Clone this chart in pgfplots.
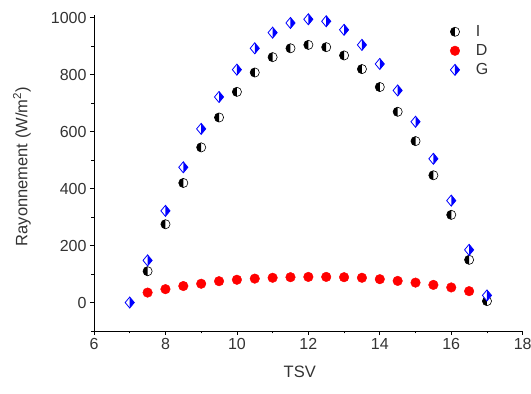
\documentclass[border=0pt]{standalone}
\usepackage{fontspec}
\setmainfont{Liberation Sans}
\usepackage{pgfplots}
\pgfplotsset{compat=1.18}

\pgfdeclareplotmark{halfcircL}{%
  \pgfpathcircle{\pgfpointorigin}{\pgfplotmarksize}%
  \pgfsetfillcolor{white}\pgfusepath{fill}%
  \pgfpathmoveto{\pgfqpoint{0pt}{\pgfplotmarksize}}%
  \pgfpatharc{90}{270}{\pgfplotmarksize}%
  \pgfpathclose
  \pgfsetfillcolor{black}\pgfusepath{fill}%
  \pgfpathcircle{\pgfpointorigin}{\pgfplotmarksize}%
  \pgfsetstrokecolor{black}\pgfusepath{stroke}%
}
\pgfdeclareplotmark{halfdiamR}{%
  \pgfpathmoveto{\pgfqpoint{0pt}{1.15\pgfplotmarksize}}%
  \pgfpathlineto{\pgfqpoint{0.95\pgfplotmarksize}{0pt}}%
  \pgfpathlineto{\pgfqpoint{0pt}{-1.15\pgfplotmarksize}}%
  \pgfpathlineto{\pgfqpoint{-0.95\pgfplotmarksize}{0pt}}%
  \pgfpathclose
  \pgfsetfillcolor{white}\pgfusepath{fill}%
  \pgfpathmoveto{\pgfqpoint{0pt}{1.15\pgfplotmarksize}}%
  \pgfpathlineto{\pgfqpoint{0.95\pgfplotmarksize}{0pt}}%
  \pgfpathlineto{\pgfqpoint{0pt}{-1.15\pgfplotmarksize}}%
  \pgfpathclose
  \pgfsetfillcolor{blue}\pgfusepath{fill}%
  \pgfpathmoveto{\pgfqpoint{0pt}{1.15\pgfplotmarksize}}%
  \pgfpathlineto{\pgfqpoint{0.95\pgfplotmarksize}{0pt}}%
  \pgfpathlineto{\pgfqpoint{0pt}{-1.15\pgfplotmarksize}}%
  \pgfpathlineto{\pgfqpoint{-0.95\pgfplotmarksize}{0pt}}%
  \pgfpathclose
  \pgfsetstrokecolor{blue}\pgfusepath{stroke}%
}

\begin{document}
\begin{tikzpicture}
\begin{axis}[
  at={(94pt,63pt)}, anchor=south west,
  scale only axis,
  width=428.7pt, height=316pt,
  xmin=6, xmax=18, ymin=-100, ymax=1010,
  axis x line*=bottom, axis y line*=left,
  xtick={6,8,...,18}, ytick={0,200,...,1000},
  minor xtick={7,9,...,17}, minor ytick={-100,100,...,900},
  tick align=outside,
  major tick length=4pt, minor tick length=2.5pt,
  tick style={black, line width=0.8pt},
  axis line style={black, line width=0.8pt},
  /pgf/number format/assume math mode=true,
  /pgf/number format/1000 sep={},
  ticklabel style={font=\fontsize{16}{18}\selectfont, text=black!80},
  xlabel={TSV},
  ylabel={Rayonnement (W/m\textsuperscript{2})},
  label style={font=\fontsize{16.5}{19}\selectfont, text=black!80},
  xlabel style={at={(axis description cs:0.48,-0.13)}, anchor=center},
  ylabel style={at={(axis description cs:-0.168,0.52)}, anchor=center, rotate=0},
  legend style={draw=none, fill=none, at={(axis description cs:0.823,0.98)}, anchor=north west,
    font=\fontsize{16}{18}\selectfont, text=black!80, row sep=2.5pt,
    /tikz/every odd column/.append style={column sep=14pt}},
  legend cell align=left,
]
\addplot[only marks, mark=halfcircL, mark size=4.6pt, line width=0.6pt] coordinates {
(7.5,110) (8,275) (8.5,420) (9,545) (9.5,650) (10,740) (10.5,808) (11,862) (11.5,893) (12,905)
(12.5,897) (13,868) (13.5,820) (14,757) (14.5,670) (15,567) (15.5,447) (16,308) (16.5,150) (17,5)
};
\addlegendentry{I}
\addplot[only marks, mark=*, mark size=4.8pt, draw=red, fill=red] coordinates {
(7.5,35) (8,47) (8.5,58) (9,66) (9.5,75) (10,80) (10.5,84) (11,87) (11.5,89) (12,90)
(12.5,90) (13,89) (13.5,87) (14,82) (14.5,76) (15,70) (15.5,62) (16,53) (16.5,40)
};
\addlegendentry{D}
\addplot[only marks, mark=halfdiamR, mark size=4.8pt, line width=0.8pt] coordinates {
(7,0) (7.5,148) (8,322) (8.5,475) (9,610) (9.5,722) (10,818) (10.5,893) (11,948) (11.5,982)
(12,995) (12.5,988) (13,958) (13.5,905) (14,838) (14.5,745) (15,635) (15.5,505) (16,358)
(16.5,185) (17,25)
};
\addlegendentry{G}
\end{axis}
\pgfresetboundingbox
\path (0,0) rectangle (531pt,394pt);
\end{tikzpicture}
\end{document}
